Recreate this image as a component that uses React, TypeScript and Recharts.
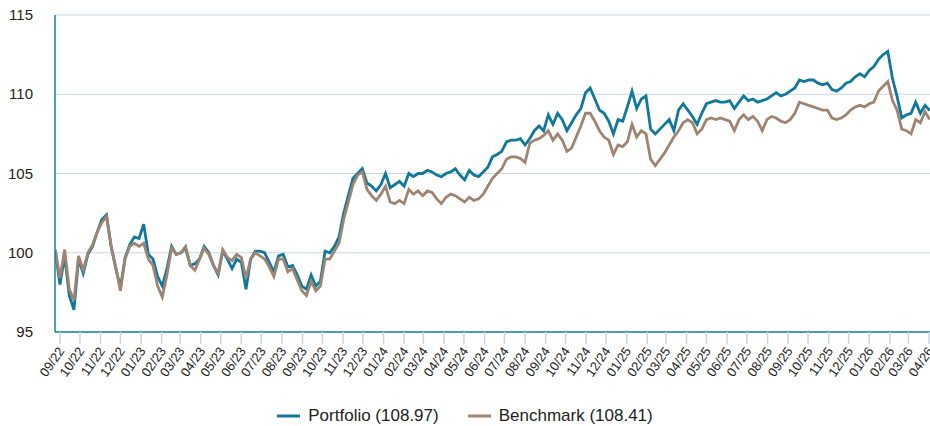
import React from 'react';
import { LineChart, Line, XAxis, YAxis, CartesianGrid, Legend } from 'recharts';

// Weekly observations starting 2022-08-25
const START = { year: 2022, month: 8, day: 25 };

const portfolio = [
  100.1, 98.0, 99.8, 97.3, 96.4, 99.6, 98.7, 99.9, 100.4, 101.3,
  102.1, 102.4, 100.4, 99.0, 97.8, 99.7, 100.5, 101.0, 100.9, 101.8,
  99.9, 99.6, 98.5, 97.9, 99.0, 100.4, 99.9, 100.0, 100.3, 99.2,
  99.3, 99.6, 100.4, 100.0, 99.2, 98.6, 100.1, 99.6, 99.0, 99.6,
  99.4, 97.7, 99.6, 100.1, 100.1, 100.0, 99.4, 98.8, 99.8, 99.9,
  99.1, 99.2, 98.6, 97.9, 97.7, 98.6, 97.9, 98.2, 100.1, 100.0,
  100.4, 101.0, 102.5, 103.6, 104.7, 105.0, 105.3, 104.4, 104.2, 103.9,
  104.3, 105.0, 104.1, 104.3, 104.5, 104.2, 105.0, 104.8, 105.0, 105.0,
  105.2, 105.1, 104.9, 104.8, 105.0, 105.1, 105.3, 104.9, 104.6, 105.2,
  104.9, 104.8, 105.1, 105.4, 106.05, 106.2, 106.4, 107.0, 107.1, 107.1,
  107.2, 106.8, 107.2, 107.7, 108.0, 107.7, 108.7, 108.1, 108.8, 108.4,
  107.7, 108.2, 108.7, 109.1, 110.1, 110.4, 109.7, 109.0, 108.8, 108.3,
  107.5, 108.4, 108.3, 109.2, 110.2, 109.1, 109.7, 109.9, 107.8, 107.5,
  107.8, 108.1, 108.4, 107.7, 109.0, 109.4, 109.0, 108.6, 108.1, 108.8,
  109.4, 109.5, 109.6, 109.5, 109.5, 109.6, 109.1, 109.5, 109.9, 109.6,
  109.7, 109.5, 109.6, 109.7, 109.9, 110.1, 109.9, 110.0, 110.2, 110.4,
  110.9, 110.8, 110.9, 110.9, 110.7, 110.6, 110.7, 110.3, 110.2, 110.4,
  110.7, 110.8, 111.1, 111.3, 111.1, 111.5, 111.75, 112.2, 112.5, 112.7,
  111.0, 109.85, 108.5, 108.7, 108.8, 109.5, 108.8, 109.3, 108.97,
];

const benchmark = [
  100.2, 98.4, 100.2, 97.7, 97.0, 99.8, 98.9, 100.0, 100.5, 101.3,
  101.9, 102.3, 100.4, 99.1, 97.6, 99.6, 100.4, 100.6, 100.4, 100.6,
  99.6, 99.2, 97.9, 97.2, 98.6, 100.3, 99.9, 100.0, 100.4, 99.2,
  98.9, 99.6, 100.3, 99.9, 99.2, 98.7, 100.2, 99.7, 99.5, 99.9,
  99.7, 98.4, 99.6, 100.0, 99.8, 99.6, 99.1, 98.5, 99.6, 99.6,
  98.8, 99.0, 98.3, 97.6, 97.3, 98.2, 97.6, 97.9, 99.6, 99.6,
  100.1, 100.6, 102.1, 103.2, 104.3, 104.9, 105.1, 104.0, 103.6, 103.3,
  103.7, 104.2, 103.2, 103.1, 103.3, 103.1, 104.0, 103.7, 103.9, 103.6,
  103.9, 103.8, 103.4, 103.1, 103.5, 103.7, 103.6, 103.4, 103.2, 103.5,
  103.3, 103.4, 103.7, 104.2, 104.7, 105.0, 105.3, 105.9, 106.05, 106.05,
  105.95, 105.7, 106.9, 107.1, 107.2, 107.4, 107.7, 107.1, 107.5, 107.1,
  106.4, 106.6, 107.3, 108.0, 108.8, 108.8, 108.3, 107.7, 107.3, 107.1,
  106.2, 106.8, 106.7, 107.0, 108.1, 107.3, 107.7, 107.5, 105.9, 105.5,
  105.9, 106.3, 106.8, 107.3, 107.7, 108.2, 108.4, 108.2, 107.5, 107.8,
  108.4, 108.5, 108.4, 108.5, 108.4, 108.3, 107.7, 108.4, 108.7, 108.4,
  108.6, 108.3, 107.7, 108.4, 108.6, 108.5, 108.3, 108.2, 108.4, 108.8,
  109.5, 109.4, 109.3, 109.2, 109.1, 109.0, 109.0, 108.5, 108.4, 108.5,
  108.7, 109.0, 109.2, 109.3, 109.2, 109.4, 109.5, 110.2, 110.5, 110.8,
  109.6, 109.0, 107.8, 107.7, 107.5, 108.4, 108.2, 108.9, 108.41,
];

const monthLabels = [
  '09/22', '10/22', '11/22', '12/22',
  '01/23', '02/23', '03/23', '04/23', '05/23', '06/23', '07/23', '08/23', '09/23', '10/23', '11/23', '12/23',
  '01/24', '02/24', '03/24', '04/24', '05/24', '06/24', '07/24', '08/24', '09/24', '10/24', '11/24', '12/24',
  '01/25', '02/25', '03/25', '04/25', '05/25', '06/25', '07/25', '08/25', '09/25', '10/25', '11/25', '12/25',
  '01/26', '02/26', '03/26', '04/26',
];

const yTicks = [95, 100, 105, 110, 115];

const seriesNames = { portfolio: 'Portfolio', benchmark: 'Benchmark' };

const DAY_MS = 86400000;
const ORIGIN = Date.UTC(2022, 8, 1);
const startDay = (Date.UTC(START.year, START.month - 1, START.day) - ORIGIN) / DAY_MS;

const data = portfolio.map((p, i) => ({
  d: startDay + 7 * i,
  portfolio: p,
  benchmark: benchmark[i],
}));

const monthTicks = monthLabels.map((l) => {
  const [m, y] = l.split('/');
  return (Date.UTC(2000 + Number(y), Number(m) - 1, 1) - ORIGIN) / DAY_MS;
});

const labelFor = (v: number) => {
  const idx = monthTicks.indexOf(v);
  return idx >= 0 ? monthLabels[idx] : '';
};

const COLORS = {
  portfolio: '#10799b',
  benchmark: '#a08472',
  grid: '#c9d5e6',
  axis: '#1a7fa0',
  text: '#222222',
};

const FONT = '"Liberation Sans", Arial, Helvetica, sans-serif';

const XTick = (props: any) => {
  const { x, y, payload } = props;
  return (
    <g transform={`translate(${x + 5},${y + 5})`}>
      <text
        x={0}
        y={0}
        textAnchor="end"
        transform="rotate(-55)"
        fontSize={13}
        fontFamily={FONT}
        fill={COLORS.text}
      >
        {labelFor(payload.value)}
      </text>
    </g>
  );
};

const YTick = (props: any) => {
  const { y, payload } = props;
  return (
    <text
      x={33}
      y={y}
      dy={5}
      textAnchor="end"
      fontSize={15}
      fontFamily={FONT}
      fill={COLORS.text}
    >
      {payload.value}
    </text>
  );
};

const lastP = portfolio[portfolio.length - 1];
const lastB = benchmark[benchmark.length - 1];

const LegendContent = () => {
  const items = [
    { color: COLORS.portfolio, label: `${seriesNames.portfolio} (${lastP.toFixed(2)})` },
    { color: COLORS.benchmark, label: `${seriesNames.benchmark} (${lastB.toFixed(2)})` },
  ];
  return (
    <div
      style={{
        display: 'flex',
        justifyContent: 'center',
        alignItems: 'center',
        height: 32,
        boxSizing: 'border-box',
        paddingTop: 12,
        fontFamily: FONT,
        fontSize: 17,
        lineHeight: '20px',
        color: COLORS.text,
      }}
    >
      {items.map((it, i) => (
        <div key={i} style={{ display: 'flex', alignItems: 'center', marginLeft: i ? 29 : 0 }}>
          <svg width={23} height={4} style={{ marginRight: 8 }}>
            <line x1={0} y1={2} x2={23} y2={2} stroke={it.color} strokeWidth={3} />
          </svg>
          <span>{it.label}</span>
        </div>
      ))}
    </div>
  );
};

export default function App() {
  return (
    <div style={{ position: 'absolute', left: 0, top: 0, width: 930, height: 426, background: '#fff' }}>
      <LineChart
        width={930}
        height={426}
        data={data}
        margin={{ top: 15, right: 0, bottom: 0, left: 0 }}
      >
        <CartesianGrid horizontal vertical={false} stroke={COLORS.grid} strokeWidth={1.2} />
        <XAxis
          dataKey="d"
          type="number"
          domain={[-7.5, 1309.5]}
          ticks={monthTicks}
          interval={0}
          tick={<XTick />}
          tickSize={12}
          tickMargin={2}
          tickLine={{ stroke: COLORS.grid, strokeWidth: 1.5 }}
          axisLine={{ stroke: COLORS.axis, strokeWidth: 1.5 }}
          height={62}
          allowDataOverflow
        />
        <YAxis
          type="number"
          domain={[95, 115]}
          ticks={yTicks}
          interval={0}
          width={55}
          tick={<YTick />}
          tickLine={false}
          axisLine={{ stroke: COLORS.axis, strokeWidth: 1.5 }}
        />
        <Legend
          verticalAlign="bottom"
          content={<LegendContent />}
          wrapperStyle={{ height: 32 }}
        />
        <Line
          type="linear"
          dataKey="portfolio"
          name={seriesNames.portfolio}
          stroke={COLORS.portfolio}
          strokeWidth={2.8}
          dot={false}
          isAnimationActive={false}
        />
        <Line
          type="linear"
          dataKey="benchmark"
          name={seriesNames.benchmark}
          stroke={COLORS.benchmark}
          strokeWidth={2.8}
          dot={false}
          isAnimationActive={false}
        />
      </LineChart>
    </div>
  );
}
